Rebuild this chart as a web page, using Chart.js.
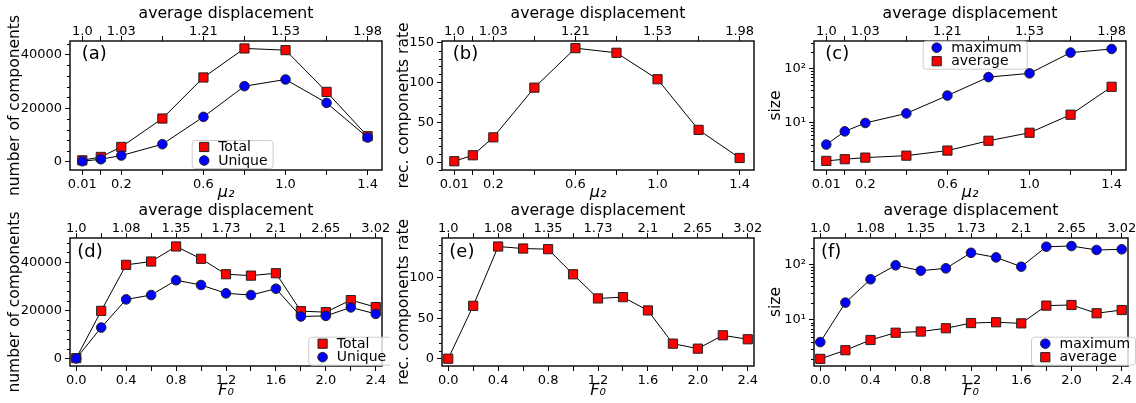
<!DOCTYPE html>
<html>
<head>
<meta charset="utf-8">
<script src="https://cdn.jsdelivr.net/npm/chart.js@4.4.0/dist/chart.umd.min.js"></script>
<style>
  body { margin: 0; background: #fff; width: 1136px; height: 403px; position: relative; overflow: hidden; }
  canvas { position: absolute; }
</style>
</head>
<body>
<canvas id="pa"></canvas>
<canvas id="pb"></canvas>
<canvas id="pc"></canvas>
<canvas id="pd"></canvas>
<canvas id="pe"></canvas>
<canvas id="pf"></canvas>
<script>
// top row: x = mu_2
var mu2 = [0.01, 0.1, 0.2, 0.4, 0.6, 0.8, 1.0, 1.2, 1.4];
var mu2Labels = ['0.01', '', '0.2', '', '0.6', '', '1.0', '', '1.4'];
var mu2DispLabels = ['1.0', '', '1.03', '', '1.21', '', '1.53', '', '1.98'];
var totalA = [600, 1860, 5590, 16150, 31430, 42230, 41600, 26070, 9570];
var uniqueA = [260, 1000, 2380, 6590, 16760, 28190, 30680, 21970, 9090];
var rateB = [1, 8.5, 31, 93.4, 143, 137.2, 104, 40.4, 5.1];
var maxC = [4, 7, 10, 15, 32, 70, 82, 198, 231];
var avgC = [2, 2.15, 2.3, 2.5, 3.1, 4.7, 6.6, 14.2, 46.4];

// bottom row: x = F_0
var F0 = [0.0, 0.2, 0.4, 0.6, 0.8, 1.0, 1.2, 1.4, 1.6, 1.8, 2.0, 2.2, 2.4];
var F0Labels = ['0.0', '', '0.4', '', '0.8', '', '1.2', '', '1.6', '', '2.0', '', '2.4'];
var F0DispLabels = ['1.0', '', '1.08', '', '1.35', '', '1.73', '', '2.1', '', '2.65', '', '3.02'];
var totalD = [250, 19830, 38880, 40260, 46500, 41380, 35000, 34420, 35420, 19710, 19290, 24290, 21380];
var uniqueD = [150, 12920, 24580, 26380, 32500, 30540, 27080, 26380, 29000, 17500, 17750, 21250, 18580];
var rateE = [0, 65.3, 138.5, 136, 135.2, 104.2, 74.4, 76, 59.6, 18.6, 12.4, 28.9, 24];
var maxF = [4, 20.5, 53.8, 96, 76.7, 84.7, 161, 133, 90.6, 207, 213, 181, 186];
var avgF = [2, 2.86, 4.37, 5.9, 6.2, 7.1, 8.8, 9.1, 8.7, 18.1, 18.6, 13.2, 15.1];

// y ticks
var countTicks = [0, 20000, 40000];
var countTickLabels = ['0', '20000', '40000'];
var rateTicksB = [0, 50, 100, 150];
var rateTickLabelsB = ['0', '50', '100', '150'];
var rateTicksE = [0, 50, 100];
var rateTickLabelsE = ['0', '50', '100'];
var sizeTicks = [10, 100];
var sizeTickLabels = ['10\u00b9', '10\u00b2'];

function minorLin(step, lo, hi, major) {
    var out = [];
    for (var v = lo; v <= hi + 1e-9; v += step) {
        if (Math.abs(v % major) > 1e-6) out.push(v);
    }
    return out;
}
function minorLog() {
    var out = [];
    [1, 10, 100].forEach(function (d) {
        for (var k = 2; k <= 9; k++) out.push(k * d);
    });
    return out;
}

Chart.defaults.font.family = "'DejaVu Sans', sans-serif";
Chart.defaults.color = '#000';

var extras = {
    id: 'extras',
    afterDatasetsDraw: function (chart, args, o) {
        var ctx = chart.ctx, a = chart.chartArea, ys = chart.scales.y;
        ctx.save();
        ctx.strokeStyle = '#000';
        ctx.lineWidth = 1;
        (o.minorY || []).forEach(function (v) {
            if (v < ys.min || v > ys.max) return;
            var py = Math.round(ys.getPixelForValue(v)) + 0.5;
            ctx.beginPath();
            ctx.moveTo(a.left - 3, py);
            ctx.lineTo(a.left, py);
            ctx.stroke();
        });
        ctx.lineWidth = 1.5;
        ctx.strokeStyle = '#111';
        ctx.strokeRect(a.left, a.top, a.right - a.left, a.bottom - a.top);
        ctx.fillStyle = '#000';
        ctx.font = "18px 'DejaVu Sans'";
        ctx.textBaseline = 'middle';
        ctx.fillText(o.tag, a.left + o.tagDx, a.top + o.tagDy);
        if (o.legend) {
            var L = o.legend;
            ctx.font = "14px 'DejaVu Sans'";
            var tw = 0;
            L.items.forEach(function (i) {
                tw = Math.max(tw, ctx.measureText(chart.data.datasets[i].label).width);
            });
            var bx = a.left + L.x, by = a.top + L.y, bw = L.tx + tw + 5, bh = 28;
            ctx.fillStyle = 'rgba(255,255,255,0.8)';
            ctx.strokeStyle = '#cccccc';
            ctx.lineWidth = 1;
            ctx.beginPath();
            ctx.roundRect(bx + 0.5, by + 0.5, bw, bh, 3);
            ctx.fill();
            ctx.stroke();
            L.items.forEach(function (i, r) {
                var ds = chart.data.datasets[i];
                var cy = by + 7 + r * 13.5, cx = bx + L.mx;
                ctx.fillStyle = ds.pointBackgroundColor;
                ctx.strokeStyle = ds.pointBorderColor;
                ctx.lineWidth = 1;
                ctx.beginPath();
                if (ds.pointStyle === 'rect') {
                    ctx.rect(cx - 4.6, cy - 4.6, 9.2, 9.2);
                } else {
                    ctx.arc(cx, cy, 4.8, 0, Math.PI * 2);
                }
                ctx.fill();
                ctx.stroke();
                ctx.fillStyle = '#000';
                ctx.fillText(ds.label, bx + L.tx, cy + 0.5);
            });
        }
        ctx.restore();
    }
};

function series(label, values, style, color, order) {
    return { label: label, values: values, style: style, color: color, order: order };
}

function panel(id, o) {
    var el = document.getElementById(id);
    el.width = o.w;
    el.height = o.h;
    el.style.left = o.left + 'px';
    el.style.top = o.top + 'px';
    var tickFont = { size: 13 };
    var grid = { drawOnChartArea: false, drawTicks: true, tickLength: 5, color: '#000', lineWidth: 1 };
    var xs = o.xs;
    new Chart(el, {
        type: 'line',
        data: {
            datasets: o.series.map(function (s) {
                return {
                    label: s.label,
                    data: xs.map(function (x, i) { return { x: x, y: s.values[i] }; }),
                    borderColor: '#000',
                    borderWidth: 1,
                    pointStyle: s.style,
                    pointRadius: s.style === 'rect' ? 6.5 : 4.8,
                    pointBackgroundColor: s.color,
                    pointBorderColor: '#222',
                    pointBorderWidth: 1,
                    order: s.order,
                    tension: 0,
                    fill: false
                };
            })
        },
        options: {
            responsive: false,
            animation: false,
            events: [],
            layout: { padding: { left: 0, right: o.padR, top: 0, bottom: 0 }, autoPadding: false },
            plugins: {
                legend: { display: false },
                tooltip: { enabled: false },
                extras: { minorY: o.minorY, tag: o.tag, tagDx: o.tagDx, tagDy: o.tagDy, legend: o.legend }
            },
            scales: {
                x: {
                    type: 'linear', position: 'bottom', min: o.xmin, max: o.xmax,
                    border: { display: false }, grid: grid,
                    afterBuildTicks: function (s) { s.ticks = xs.map(function (v) { return { value: v }; }); },
                    ticks: { autoSkip: false, maxRotation: 0, font: tickFont, padding: 2,
                        callback: function (v, i) { return o.botLabels[i]; } },
                    title: { display: true, text: o.xTitle, font: { size: 16, style: 'italic' }, padding: { top: 0, bottom: 3 } },
                    afterFit: function (s) { s.height = o.bottomH; }
                },
                x2: {
                    type: 'linear', axis: 'x', position: 'top', min: o.xmin, max: o.xmax,
                    border: { display: false }, grid: grid,
                    afterBuildTicks: function (s) { s.ticks = xs.map(function (v) { return { value: v }; }); },
                    ticks: { autoSkip: false, maxRotation: 0, font: tickFont, padding: -3,
                        callback: function (v, i) { return o.topLabels[i]; } },
                    title: { display: true, text: 'average displacement', font: { size: 15.7 }, padding: { top: 5, bottom: 0 } },
                    afterFit: function (s) { s.height = o.topH; }
                },
                y: {
                    type: o.log ? 'logarithmic' : 'linear', position: 'left', min: o.ymin, max: o.ymax,
                    border: { display: false }, grid: grid,
                    afterBuildTicks: function (s) { s.ticks = o.yTicks.map(function (v) { return { value: v }; }); },
                    ticks: { autoSkip: false, font: tickFont, padding: 3,
                        callback: function (v, i) { return o.yLabels[i]; } },
                    title: { display: true, text: o.yTitle, font: { size: 15.5 }, padding: { top: o.yTitlePad, bottom: 0 } },
                    afterFit: function (s) { s.width = o.yAxisW; }
                }
            }
        },
        plugins: [extras]
    });
}

var rowTop = { left: 0, top: 0, h: 205, topH: 41, bottomH: 35, xs: mu2, xmin: -0.05, xmax: 1.47,
    botLabels: mu2Labels, topLabels: mu2DispLabels, xTitle: '\u03bc\u2082', tagDy: 13 };
var rowBot = { top: 197, h: 206, topH: 41, bottomH: 37, xs: F0, xmin: -0.05, xmax: 2.45,
    botLabels: F0Labels, topLabels: F0DispLabels, xTitle: 'F\u2080', tagDy: 14.5 };

function merge(a, b) { return Object.assign({}, a, b); }

panel('pa', merge(rowTop, {
    left: 0, w: 390, padR: 8, yAxisW: 70, yTitlePad: 6,
    series: [series('Total', totalA, 'rect', '#ff0000', 1), series('Unique', uniqueA, 'circle', '#0000ff', 0)],
    ymin: -3000, ymax: 45000, yTicks: countTicks, yLabels: countTickLabels, minorY: minorLin(4000, -4000, 48000, 20000),
    yTitle: 'number of components', tag: '(a)', tagDx: 11.7,
    legend: { x: 121.7, y: 99, mx: 12.5, tx: 26.5, items: [0, 1] }
}));
panel('pb', merge(rowTop, {
    left: 382, w: 380, padR: 8, yAxisW: 60, yTitlePad: 13,
    series: [series('rate', rateB, 'rect', '#ff0000', 0)],
    ymin: -10, ymax: 152, yTicks: rateTicksB, yLabels: rateTickLabelsB, minorY: minorLin(10, -10, 150, 50),
    yTitle: 'rec. components rate', tag: '(b)', tagDx: 10.7
}));
panel('pc', merge(rowTop, {
    left: 754, w: 382, padR: 10, yAxisW: 60, yTitlePad: 13, log: true,
    series: [series('maximum', maxC, 'circle', '#0000ff', 0), series('average', avgC, 'rect', '#ff0000', 1)],
    ymin: 1.36, ymax: 324, yTicks: sizeTicks, yLabels: sizeTickLabels, minorY: minorLog(),
    yTitle: 'size', tag: '(c)', tagDx: 11.3,
    legend: { x: 108.7, y: -0.3, mx: 14, tx: 28.5, items: [0, 1] }
}));
panel('pd', merge(rowBot, {
    left: 0, w: 390, padR: 8, yAxisW: 70, yTitlePad: 6,
    series: [series('Total', totalD, 'rect', '#ff0000', 1), series('Unique', uniqueD, 'circle', '#0000ff', 0)],
    ymin: -3000, ymax: 50000, yTicks: countTicks, yLabels: countTickLabels, minorY: minorLin(4000, -4000, 48000, 20000),
    yTitle: 'number of components', tag: '(d)', tagDx: 7.3,
    legend: { x: 238.3, y: 98.7, mx: 14.3, tx: 28.5, items: [0, 1] }
}));
panel('pe', merge(rowBot, {
    left: 382, w: 380, padR: 8, yAxisW: 60, yTitlePad: 13,
    series: [series('rate', rateE, 'rect', '#ff0000', 0)],
    ymin: -9, ymax: 149, yTicks: rateTicksE, yLabels: rateTickLabelsE, minorY: minorLin(10, -10, 140, 50),
    yTitle: 'rec. components rate', tag: '(e)', tagDx: 7.3
}));
panel('pf', merge(rowBot, {
    left: 754, w: 382, padR: 8, yAxisW: 60, yTitlePad: 13, log: true,
    series: [series('maximum', maxF, 'circle', '#0000ff', 0), series('average', avgF, 'rect', '#ff0000', 1)],
    ymin: 1.49, ymax: 297, yTicks: sizeTicks, yLabels: sizeTickLabels, minorY: minorLog(),
    yTitle: 'size', tag: '(f)', tagDx: 7,
    legend: { x: 217, y: 98.7, mx: 14.3, tx: 28.5, items: [0, 1] }
}));
</script>
</body>
</html>
